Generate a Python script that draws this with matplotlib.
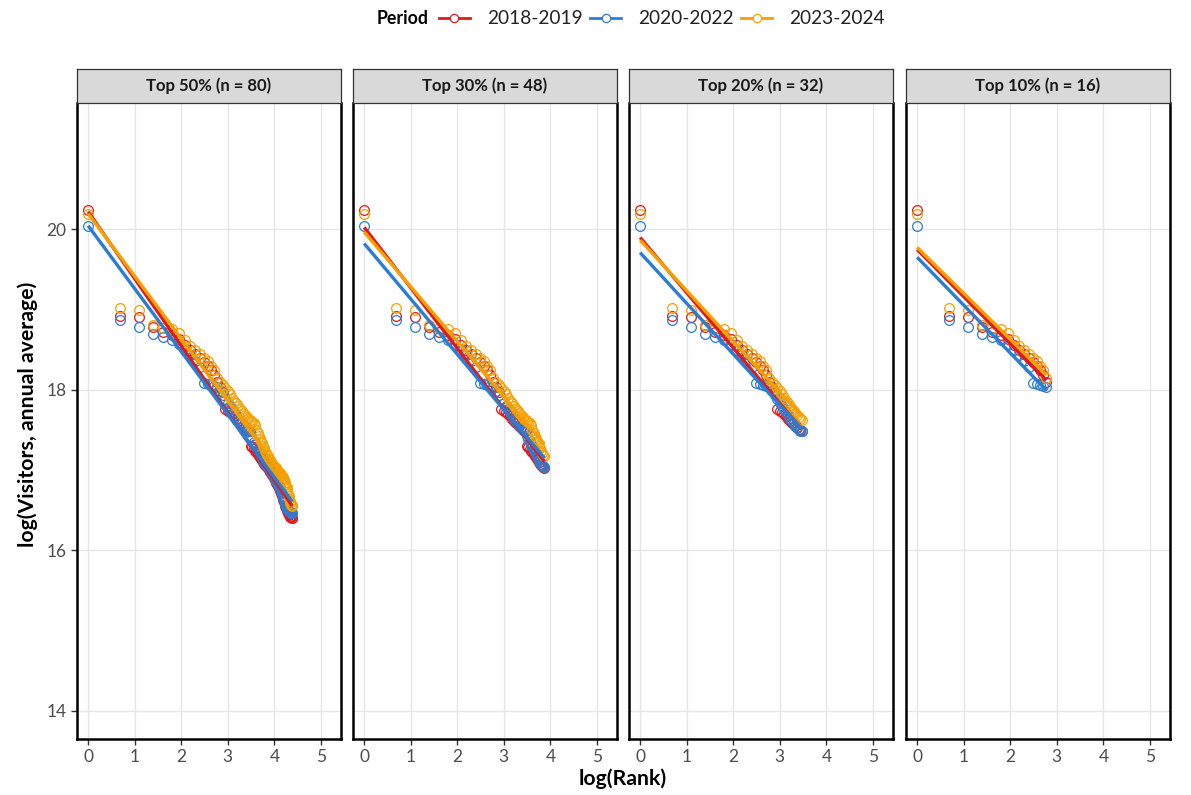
import numpy as np
import matplotlib
matplotlib.use("Agg")
import matplotlib.pyplot as plt
from matplotlib.lines import Line2D

plt.rcParams['font.family'] = ['Lato', 'DejaVu Sans']

periods = ["2018-2019", "2020-2022", "2023-2024"]
colors = {"2018-2019": "#E0191C", "2020-2022": "#2A7DD6", "2023-2024": "#F5A000"}

# log(visitors) by rank 1..80 for each period
v_2018_2019 = [
    20.24, 18.92, 18.90, 18.78, 18.72, 18.68, 18.63, 18.56, 18.50, 18.45,
    18.40, 18.34, 18.29, 18.24, 18.18, 18.10, 18.03, 17.97, 17.76, 17.74,
    17.72, 17.70, 17.67, 17.63, 17.61, 17.59, 17.58, 17.55, 17.53, 17.51,
    17.50, 17.49, 17.30, 17.28, 17.26, 17.24, 17.22, 17.20, 17.18, 17.16,
    17.14, 17.12, 17.10, 17.08, 17.06, 17.05, 17.04, 17.03, 17.00, 16.98,
    16.96, 16.94, 16.92, 16.90, 16.88, 16.86, 16.84, 16.82, 16.80, 16.78,
    16.76, 16.74, 16.71, 16.68, 16.65, 16.62, 16.60, 16.57, 16.55, 16.53,
    16.51, 16.49, 16.47, 16.45, 16.44, 16.43, 16.42, 16.41, 16.40, 16.40]
v_2020_2022 = [
    20.04, 18.87, 18.78, 18.69, 18.66, 18.62, 18.57, 18.50, 18.43, 18.36,
    18.28, 18.08, 18.07, 18.06, 18.05, 18.03, 17.98, 17.93, 17.88, 17.84,
    17.80, 17.76, 17.72, 17.68, 17.64, 17.61, 17.58, 17.55, 17.52, 17.50,
    17.49, 17.48, 17.42, 17.38, 17.35, 17.32, 17.29, 17.26, 17.23, 17.21,
    17.18, 17.16, 17.13, 17.10, 17.07, 17.06, 17.05, 17.04, 17.02, 17.00,
    16.98, 16.96, 16.94, 16.92, 16.90, 16.88, 16.86, 16.84, 16.82, 16.80,
    16.78, 16.76, 16.74, 16.71, 16.68, 16.66, 16.63, 16.61, 16.58, 16.56,
    16.54, 16.52, 16.51, 16.50, 16.49, 16.48, 16.48, 16.47, 16.47, 16.46]
v_2023_2024 = [
    20.19, 19.02, 18.99, 18.81, 18.77, 18.76, 18.70, 18.62, 18.55, 18.50,
    18.45, 18.40, 18.36, 18.30, 18.24, 18.15, 18.10, 18.06, 18.02, 17.98,
    17.94, 17.90, 17.86, 17.84, 17.80, 17.76, 17.74, 17.71, 17.68, 17.66,
    17.64, 17.62, 17.61, 17.60, 17.58, 17.56, 17.50, 17.46, 17.42, 17.39,
    17.36, 17.33, 17.30, 17.27, 17.24, 17.21, 17.19, 17.17, 17.14, 17.12,
    17.10, 17.08, 17.06, 17.05, 17.04, 17.03, 17.02, 17.00, 16.98, 16.97,
    16.96, 16.95, 16.94, 16.93, 16.91, 16.89, 16.87, 16.85, 16.82, 16.79,
    16.76, 16.73, 16.70, 16.67, 16.64, 16.61, 16.59, 16.57, 16.56, 16.55]
series = {"2018-2019": v_2018_2019, "2020-2022": v_2020_2022, "2023-2024": v_2023_2024}

facet_labels = ["Top 50% (n = 80)", "Top 30% (n = 48)", "Top 20% (n = 32)", "Top 10% (n = 16)"]
facet_n = [80, 48, 32, 16]
x_ticks = [0, 1, 2, 3, 4, 5]
y_ticks = [14, 16, 18, 20]

W, H = 1191, 795
fig = plt.figure(figsize=(W / 100, H / 100), dpi=100)

panel_left = [77, 353, 629, 906]
panel_w = 264
panel_top, panel_bot = 103, 739
strip_top = 69

for i, (lab, n) in enumerate(zip(facet_labels, facet_n)):
    l = panel_left[i] / W
    b = (H - panel_bot) / H
    ax = fig.add_axes([l, b, panel_w / W, (panel_bot - panel_top) / H])
    ax.set_xlim(-0.24, 5.43)
    ax.set_ylim(13.65, 21.57)
    ax.set_xticks(x_ticks)
    ax.set_yticks(y_ticks)
    ax.grid(True, color="#E6E6E6", lw=1.0)
    ax.set_axisbelow(True)
    for s in ["left", "bottom", "right"]:
        ax.spines[s].set_color("black")
        ax.spines[s].set_linewidth(1.8)
    ax.spines["top"].set_visible(False)
    ax.tick_params(axis="both", colors="#333333", labelcolor="#4D4D4D",
                   labelsize=12.5, length=4, width=1.0, direction="out")
    if i > 0:
        ax.tick_params(axis="y", left=False, labelleft=False)
    x = np.log(np.arange(1, n + 1))
    for p in periods:
        y = np.array(series[p][:n])
        ax.plot(x, y, linestyle="none", marker="o", ms=7, mfc="none",
                mec=colors[p], mew=0.9, zorder=3)
    for p in periods:
        y = np.array(series[p][:n])
        slope, icpt = np.polyfit(x, y, 1)
        xx = np.linspace(0, x.max(), 50)
        ax.plot(xx, icpt + slope * xx, color=colors[p], lw=2.4, zorder=4,
                solid_capstyle="butt")
    # strip
    sax = fig.add_axes([l, (H - panel_top) / H, panel_w / W, (panel_top - strip_top) / H])
    sax.set_facecolor("#D9D9D9")
    sax.set_xticks([]); sax.set_yticks([])
    for s in sax.spines.values():
        s.set_color("#333333"); s.set_linewidth(0.9)
    sax.text(0.5, 0.5, lab, ha="center", va="center", fontsize=12, fontweight="bold",
             color="#1A1A1A", transform=sax.transAxes)

fig.text(623 / W, (H - 779) / H, "log(Rank)", ha="center", va="center",
         fontsize=15.3, fontweight="bold", color="black")
fig.text(28 / W, (H - 414) / H, "log(Visitors, annual average)", ha="center", va="center",
         rotation=90, fontsize=15.3, fontweight="bold", color="black")

# legend
fig.text(377 / W, (H - 19) / H, "Period", ha="left", va="center", fontsize=12.8,
         fontweight="bold", color="black")
handles = [Line2D([0], [0], color=colors[p], lw=2, marker="o", ms=6, mfc="white",
                  mec=colors[p], mew=0.9) for p in periods]
fig.legend(handles, periods, loc="center", bbox_to_anchor=(662 / W, (H - 19) / H),
           ncol=3, frameon=False, fontsize=13.8, handlelength=1.6, columnspacing=0.4,
           handletextpad=0.9, labelcolor="#222222")

fig.savefig("out.png", dpi=100)
